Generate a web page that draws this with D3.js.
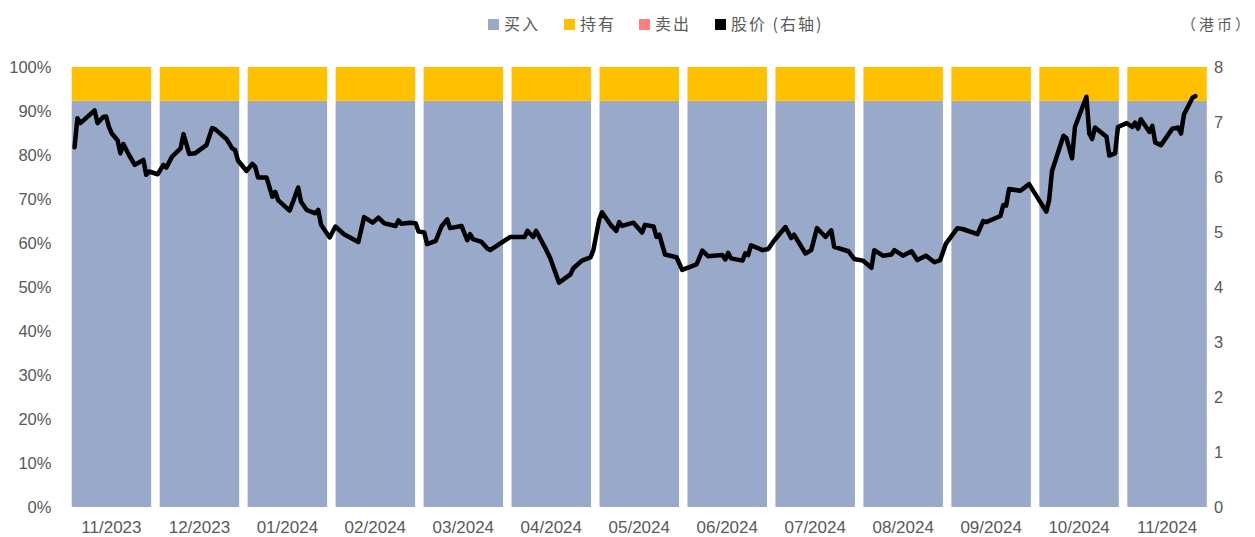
<!DOCTYPE html>
<html>
<head>
<meta charset="utf-8">
<script src="https://cdn.jsdelivr.net/npm/d3@7"></script>
<style>
  body { margin: 0; background: #fff; }
  svg text { fill: #595959; }
</style>
</head>
<body>
<div id="chart"></div>
<script>
// monthly rating split (share of analysts) and the daily share price (HKD)
var months = ["11/2023", "12/2023", "01/2024", "02/2024", "03/2024", "04/2024", "05/2024",
              "06/2024", "07/2024", "08/2024", "09/2024", "10/2024", "11/2024"];
var buyPct  = [92.3, 92.3, 92.3, 92.3, 92.3, 92.3, 92.3, 92.3, 92.3, 92.3, 92.3, 92.3, 92.3];
var holdPct = [7.7, 7.7, 7.7, 7.7, 7.7, 7.7, 7.7, 7.7, 7.7, 7.7, 7.7, 7.7, 7.7];
var sellPct = [0, 0, 0, 0, 0, 0, 0, 0, 0, 0, 0, 0, 0];

var priceDates = [
  "2023-11-02","2023-11-03","2023-11-04","2023-11-09","2023-11-10","2023-11-12","2023-11-13","2023-11-14",
  "2023-11-15","2023-11-17","2023-11-18","2023-11-19","2023-11-21","2023-11-23","2023-11-26","2023-11-27",
  "2023-11-28","2023-12-01","2023-12-03","2023-12-04","2023-12-06","2023-12-09","2023-12-10","2023-12-12",
  "2023-12-14","2023-12-18","2023-12-20","2023-12-21","2023-12-25","2023-12-27","2023-12-28","2023-12-29",
  "2024-01-01","2024-01-03","2024-01-04","2024-01-05","2024-01-08","2024-01-10","2024-01-11","2024-01-12",
  "2024-01-16","2024-01-17","2024-01-19","2024-01-20","2024-01-22","2024-01-25","2024-01-26","2024-01-27",
  "2024-01-30","2024-02-01","2024-02-04","2024-02-09","2024-02-11","2024-02-14","2024-02-16","2024-02-18",
  "2024-02-22","2024-02-23","2024-02-24","2024-02-27","2024-02-29","2024-03-01","2024-03-03","2024-03-04",
  "2024-03-07","2024-03-09","2024-03-11","2024-03-12","2024-03-16","2024-03-18","2024-03-19","2024-03-20",
  "2024-03-23","2024-03-25","2024-03-26","2024-04-02","2024-04-07","2024-04-08","2024-04-10","2024-04-11",
  "2024-04-14","2024-04-16","2024-04-17","2024-04-19","2024-04-23","2024-04-24","2024-04-27","2024-04-30",
  "2024-05-01","2024-05-03","2024-05-04","2024-05-07","2024-05-09","2024-05-10","2024-05-11","2024-05-15",
  "2024-05-18","2024-05-19","2024-05-22","2024-05-23","2024-05-24","2024-05-26","2024-05-30","2024-06-01",
  "2024-06-06","2024-06-08","2024-06-10","2024-06-15","2024-06-16","2024-06-17","2024-06-18","2024-06-22",
  "2024-06-23","2024-06-24","2024-06-25","2024-06-29","2024-07-01","2024-07-03","2024-07-07","2024-07-09",
  "2024-07-10","2024-07-14","2024-07-16","2024-07-18","2024-07-21","2024-07-23","2024-07-24","2024-07-29",
  "2024-07-31","2024-08-03","2024-08-06","2024-08-07","2024-08-10","2024-08-13","2024-08-14","2024-08-17",
  "2024-08-20","2024-08-22","2024-08-25","2024-08-28","2024-08-30","2024-09-01","2024-09-05","2024-09-07",
  "2024-09-12","2024-09-14","2024-09-15","2024-09-20","2024-09-21","2024-09-22","2024-09-23","2024-09-27",
  "2024-09-30","2024-10-06","2024-10-07","2024-10-08","2024-10-12","2024-10-13","2024-10-15","2024-10-16",
  "2024-10-20","2024-10-21","2024-10-22","2024-10-23","2024-10-27","2024-10-28","2024-10-30","2024-10-31",
  "2024-11-03","2024-11-05","2024-11-06","2024-11-07","2024-11-08","2024-11-11","2024-11-12","2024-11-13",
  "2024-11-15","2024-11-19","2024-11-21","2024-11-22","2024-11-23","2024-11-26","2024-11-27"
];
var priceValues = [
  6.54, 7.07, 6.98, 7.21, 6.98, 7.09, 7.10, 6.91,
  6.79, 6.67, 6.43, 6.60, 6.40, 6.22, 6.31, 6.04,
  6.10, 6.05, 6.22, 6.17, 6.37, 6.52, 6.78, 6.42,
  6.43, 6.58, 6.89, 6.87, 6.69, 6.52, 6.49, 6.30,
  6.11, 6.24, 6.19, 5.99, 5.99, 5.64, 5.73, 5.58,
  5.39, 5.52, 5.81, 5.55, 5.40, 5.34, 5.40, 5.13,
  4.90, 5.10, 4.96, 4.82, 5.27, 5.17, 5.26, 5.16,
  5.11, 5.21, 5.15, 5.17, 5.16, 5.01, 4.99, 4.78,
  4.84, 5.10, 5.23, 5.07, 5.11, 4.85, 4.96, 4.87,
  4.82, 4.70, 4.67, 4.91, 4.91, 5.02, 4.91, 5.02,
  4.73, 4.52, 4.37, 4.08, 4.23, 4.34, 4.48, 4.54,
  4.67, 5.22, 5.36, 5.13, 5.02, 5.18, 5.11, 5.17,
  4.99, 5.13, 5.10, 4.91, 4.95, 4.59, 4.54, 4.31,
  4.41, 4.66, 4.56, 4.58, 4.50, 4.62, 4.52, 4.48,
  4.61, 4.58, 4.76, 4.67, 4.69, 4.84, 5.09, 4.89,
  4.95, 4.61, 4.67, 5.07, 4.91, 5.03, 4.73, 4.65,
  4.51, 4.48, 4.35, 4.67, 4.57, 4.59, 4.67, 4.57,
  4.65, 4.49, 4.57, 4.45, 4.49, 4.79, 5.07, 5.05,
  4.96, 5.20, 5.18, 5.29, 5.49, 5.48, 5.78, 5.75,
  5.87, 5.37, 5.58, 6.11, 6.75, 6.71, 6.34, 6.91,
  7.46, 6.79, 6.69, 6.90, 6.73, 6.39, 6.43, 6.91,
  6.98, 6.91, 6.99, 6.88, 7.05, 6.82, 6.93, 6.63,
  6.58, 6.88, 6.90, 6.79, 7.13, 7.44, 7.47
];

var pctTicks = [0, 10, 20, 30, 40, 50, 60, 70, 80, 90, 100];
var priceTicks = [0, 1, 2, 3, 4, 5, 6, 7, 8];

function init() {
    var w = 1255, h = 537;
    var plotTop = 67, plotBottom = 507;
    var plotLeft = 67.45, plotRight = 1211.05;

    var svg = d3.select("#chart").append("svg")
        .attr("width", w)
        .attr("height", h);

    var x = d3.scaleBand()
        .domain(months)
        .range([plotLeft, plotRight])
        .paddingInner(0.0966)
        .paddingOuter(0.0483);
    var y = d3.scaleLinear().domain([0, 100]).range([plotBottom, plotTop]);
    var y2 = d3.scaleLinear().domain([0, 8]).range([plotBottom, plotTop]);

    var parse = d3.timeParse("%Y-%m-%d");
    var xTime = d3.scaleTime()
        .domain([parse("2023-11-01"), parse("2024-12-01")])
        .range([x(months[0]), x(months[months.length - 1]) + x.bandwidth()]);

    // stacked bars
    var rows = months.map((m, i) => ({ month: m, buy: buyPct[i], hold: holdPct[i], sell: sellPct[i] }));
    var keys = ["buy", "hold", "sell"];
    var colors = { buy: "#98A9CA", hold: "#FFC000", sell: "#FF7C80" };
    var stacked = d3.stack().keys(keys)(rows);

    svg.append("g").selectAll("g")
        .data(stacked)
        .join("g")
        .attr("fill", d => colors[d.key])
        .selectAll("rect")
        .data(d => d)
        .join("rect")
        .attr("x", d => x(d.data.month))
        .attr("width", x.bandwidth())
        .attr("y", d => y(d[1]))
        .attr("height", d => y(d[0]) - y(d[1]));

    // price line on the right axis
    var pts = priceDates.map((d, i) => ({ date: parse(d), v: priceValues[i] }));
    svg.append("path")
        .datum(pts)
        .attr("fill", "none")
        .attr("stroke", "#000")
        .attr("stroke-width", 4.5)
        .attr("stroke-linejoin", "round")
        .attr("stroke-linecap", "round")
        .attr("d", d3.line().x(d => xTime(d.date)).y(d => y2(d.v)));

    // axes, text only
    var axisFont = "'Liberation Sans', Arial, sans-serif";
    var yAxis = svg.append("g")
        .attr("transform", `translate(${plotLeft},0)`)
        .call(d3.axisLeft(y).tickValues(pctTicks).tickFormat(d => d + "%").tickSize(0).tickPadding(16));
    var y2Axis = svg.append("g")
        .attr("transform", `translate(${plotRight},0)`)
        .call(d3.axisRight(y2).tickValues(priceTicks).tickSize(0).tickPadding(3));
    var xAxis = svg.append("g")
        .attr("transform", `translate(0,${plotBottom})`)
        .call(d3.axisBottom(x).tickSize(0).tickPadding(14));

    [yAxis, y2Axis, xAxis].forEach(g => {
        g.select(".domain").remove();
        g.selectAll("text").attr("font-family", axisFont).attr("font-size", "16.5px").style("fill", "#595959");
    });
    xAxis.selectAll("text").attr("font-size", "17px");

    // legend
    var cjk = "'Noto Sans CJK SC', sans-serif";
    var legendItems = [
        { label: "买入", color: colors.buy, x: 488 },
        { label: "持有", color: colors.hold, x: 564 },
        { label: "卖出", color: colors.sell, x: 639 },
        { label: "股价 (右轴)", color: "#000", x: 715 }
    ];
    var legend = svg.append("g");
    legend.selectAll("rect")
        .data(legendItems)
        .join("rect")
        .attr("x", d => d.x)
        .attr("y", 19)
        .attr("width", 11)
        .attr("height", 11)
        .attr("fill", d => d.color);
    legend.selectAll("text")
        .data(legendItems)
        .join("text")
        .attr("x", d => d.x + 16)
        .attr("y", 30)
        .attr("font-family", cjk)
        .attr("font-size", "16px")
        .attr("letter-spacing", "2px")
        .text(d => d.label);

    svg.append("text")
        .attr("x", 1253)
        .attr("y", 30)
        .attr("text-anchor", "end")
        .attr("font-family", cjk)
        .attr("font-size", "15px")
        .attr("letter-spacing", "3px")
        .text("（港币）");
}

init();
</script>
</body>
</html>
